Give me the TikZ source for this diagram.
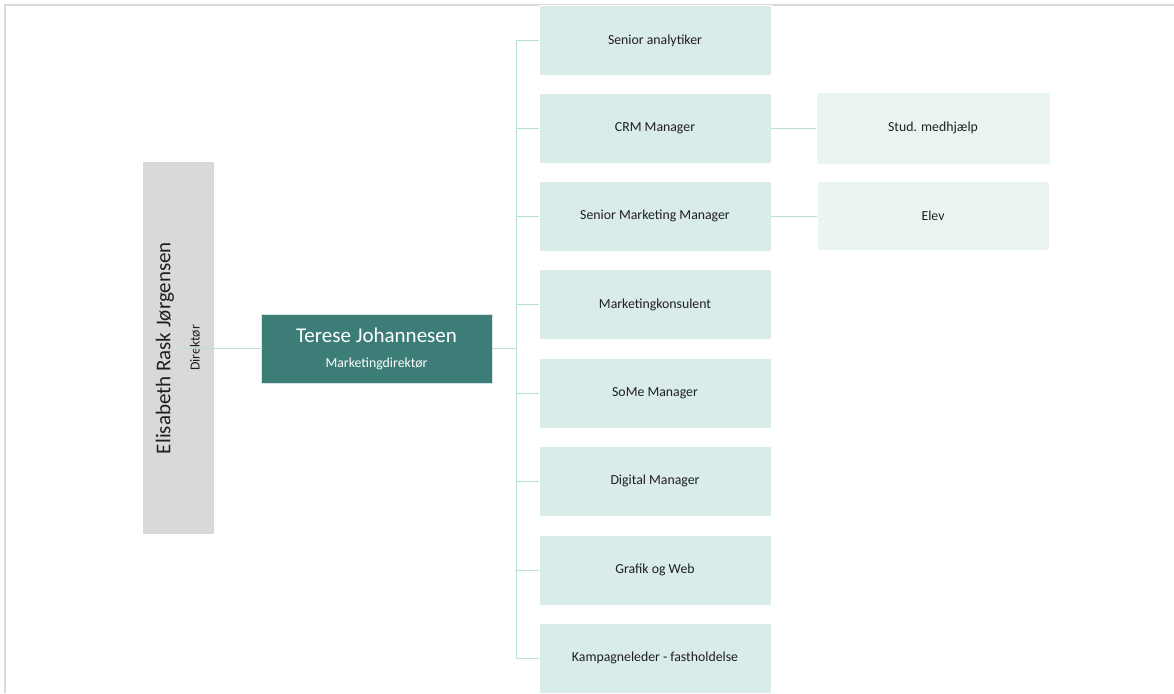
\documentclass[tikz,border=0pt]{standalone}
\usepackage{fontspec}
\setmainfont{Carlito}
\definecolor{frame}{HTML}{DADADA}
\definecolor{ceofill}{HTML}{D9D9D9}
\definecolor{cmofill}{HTML}{3C7D78}
\definecolor{rolefill}{HTML}{D9ECE9}
\definecolor{subfill}{HTML}{EAF5F3}
\definecolor{conncol}{HTML}{B9DEDA}
\definecolor{txt}{HTML}{1F1F1F}
\tikzset{
  conn/.style={draw=conncol, line width=1pt},
  rolebox/.style={fill=rolefill, draw=white, line width=0.6pt, minimum width=232pt, minimum height=70pt, inner sep=0pt,
    text=txt, font=\fontsize{13.8}{16}\selectfont},
  subbox/.style={fill=subfill, draw=white, line width=0.6pt, minimum width=234pt, minimum height=70pt, inner sep=0pt,
    text=txt, font=\fontsize{13.8}{16}\selectfont},
  bigname/.style={inner sep=0pt, font=\fontsize{21}{24}\selectfont},
  smalltitle/.style={inner sep=0pt, font=\fontsize{13.8}{16}\selectfont},
}
\begin{document}
\begin{tikzpicture}[x=1pt,y=-1pt]
\useasboundingbox (0,0) rectangle (1174,693);
\begin{scope}
\clip (0,0) rectangle (1174,693);
% frame
\draw[frame, line width=1.5pt] (1174,5) -- (5,5) -- (5,693);

% CEO
\node[fill=ceofill, minimum width=71pt, minimum height=372pt, inner sep=0pt] (ceo) at (178.5,348) {};
\node[bigname, rotate=90, text=txt] (ceoname) at (165,348) {Elisabeth Rask Jørgensen};
\node[smalltitle, rotate=90, text=txt] (ceotitle) at (195,348) {Direktør};

% CMO
\node[fill=cmofill, draw=white!80!cmofill, line width=0.8pt, minimum width=231pt, minimum height=69pt, inner sep=0pt] (cmo) at (376.5,348.5) {};
\node[bigname, text=white] (cmoname) at (376.5,335.5) {Terese Johannesen};
\node[smalltitle, text=white] (cmotitle) at (376.5,364) {Marketingdirektør};

% roles
\node[rolebox] (r1) at (655,40.5) {Senior analytiker};
\node[rolebox] (r2) at (655,128) {CRM Manager};
\node[rolebox] (r3) at (655,216) {Senior Marketing Manager};
\node[rolebox] (r4) at (655,304.5) {Marketingkonsulent};
\node[rolebox] (r5) at (655,393) {SoMe Manager};
\node[rolebox] (r6) at (655,481) {Digital Manager};
\node[rolebox] (r7) at (655,570) {Grafik og Web};
\node[rolebox] (r8) at (655,658) {Kampagneleder - fastholdelse};

% sub roles
\node[subbox, minimum height=72pt] (s1) at (933,128) {Stud. medhjælp};
\node[subbox, minimum width=232pt, minimum height=69pt] (s2) at (933,216) {Elev};

% connectors
\coordinate (tr) at (516,348.5);
\draw[conn] (ceo.south |- cmo.west) -- (cmo.west);
\draw[conn] (cmo.east) -- (tr);
\draw[conn] (r1.west -| tr) -- (r8.west -| tr);
\foreach \i in {1,...,8} {
  \draw[conn] (r\i.west -| tr) -- (r\i.west);
}
\draw[conn] (r2.east) -- (s1.west);
\draw[conn] (r3.east) -- (s2.west);
\end{scope}
\end{tikzpicture}
\end{document}
